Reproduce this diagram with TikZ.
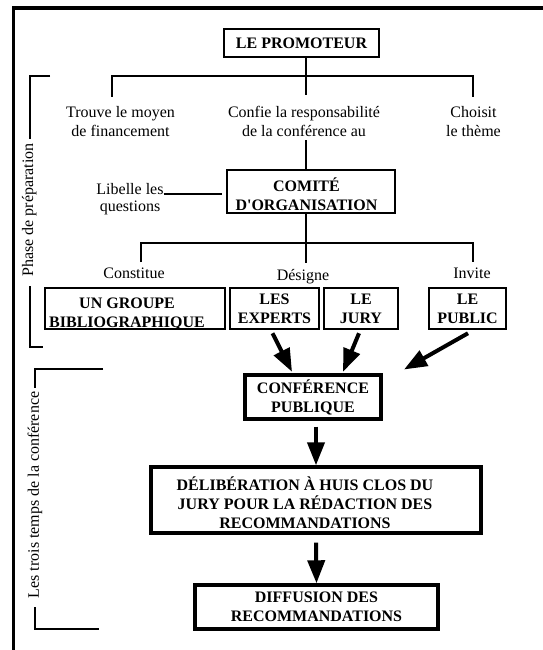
\documentclass[tikz,border=0pt]{standalone}
\usepackage{fontspec}
\setmainfont{Liberation Serif}[Ligatures=TeXOff]
\usetikzlibrary{arrows.meta,calc}
\begin{document}
\begin{tikzpicture}[x=1pt,y=-1pt,
  every node/.style={font=\fontsize{16pt}{19pt}\selectfont, inner sep=0pt},
  lbl/.style={align=center},
  bold/.style={font=\fontsize{16pt}{19pt}\selectfont\bfseries, align=center},
  box/.style={draw, line width=1.5pt, bold},
  bigbox/.style={draw, line width=3.4pt, bold},
  conn/.style={line width=1.8pt},
  outerframe/.style={line width=3.5pt},
  bracketline/.style={line width=1.8pt},
  bigarrow/.style={line width=4pt, -{Triangle[length=23pt,width=17pt]}},
  sidetext/.style={rotate=90}
]
\useasboundingbox (0,0) rectangle (543,650);
% outer frame (top and left)
\draw[outerframe] (543,8) -- (13.5,8) -- (13.5,650);

% promoteur
\node[box, minimum width=155pt, minimum height=28pt] (prom) at (301.5,43) {LE PROMOTEUR};
\coordinate (t0) at (306,76);
\coordinate (tl) at (112,97);
\coordinate (tr) at (473,97);
\node[lbl, anchor=north] (trouve) at (120.5,106.5) {Trouve le moyen\\de financement};
\node[lbl, anchor=north] (confie) at (304,106.5) {Confie la responsabilité\\de la conférence au};
\node[lbl, anchor=north] (choisit) at (473.5,106.5) {Choisit\\le thème};
\draw[conn] (prom.south -| t0) -- ($(t0)+(0,19)$);
\draw[conn] (tl) |- (t0) -| (tr);

% comite
\node[draw, line width=1.5pt, minimum width=168pt, minimum height=43pt] (comite) at (311,191.5) {};
\node[bold] (comiteT) at (306.5,194) {COMITÉ\\D'ORGANISATION};
\draw[conn] ($(confie.south -| t0)+(0,3)$) -- (comite.north -| t0);
\node[lbl, anchor=north] (lib) at (130,183) {Libelle les\\[-2pt]questions};
\coordinate (lq) at ($(comite.west)+(-4,2.5)$);
\draw[conn] (lib.north east |- lq) -- (lq);

% second branching
\coordinate (b0) at (306,243);
\coordinate (bl) at (141,262);
\coordinate (br) at (473,262);
\draw[conn] (comite.south -| b0) -- ($(b0)+(0,20)$);
\draw[conn] (bl) |- (b0) -| (br);
\node[anchor=base] (constitue) at (134,278) {Constitue};
\node[anchor=base] (designe) at (303,280.5) {Désigne};
\node[anchor=base] (invite) at (472,278) {Invite};

% row of boxes
\node[draw, line width=1.5pt, minimum width=180pt, minimum height=41pt] (groupe) at (135,308.5) {};
\node[bold] (groupeT) at (127,314) {UN GROUPE\\BIBLIOGRAPHIQUE};
\node[box, minimum width=89pt, minimum height=41pt] (experts) at (274.5,308.5) {LES\\EXPERTS};
\node[box, minimum width=74pt, minimum height=41pt] (jury) at (361,308.5) {LE\\JURY};
\node[box, minimum width=77pt, minimum height=41pt] (public) at (467.5,308.5) {LE\\PUBLIC};

% conference
\node[bigbox, minimum width=136pt, minimum height=44pt] (conf) at (313,397) {CONFÉRENCE\\PUBLIQUE};
\coordinate (pubtip) at (404,369.5);
\draw[bigarrow] ($(experts.south)+(-2,3.5)$) -- ($(conf.north)+(-21,-1.5)$);
\draw[bigarrow] ($(jury.south)+(-2,3.5)$) -- ($(conf.north)+(30,-1.5)$);
\draw[bigarrow] ($(public.south)+(0.5,3.5)$) -- (pubtip);

% deliberation
\node[draw, line width=3.4pt, minimum width=330pt, minimum height=66pt] (delib) at (316,500) {};
\node[bold] (delibT) at (305,503) {DÉLIBÉRATION À HUIS CLOS DU\\JURY POUR LA RÉDACTION DES\\RECOMMANDATIONS};
\draw[bigarrow] ($(conf.south -| delib.north)+(0,6)$) -- (delib.north);

% diffusion
\node[bigbox, minimum width=243pt, minimum height=44pt] (diff) at (316.5,607) {DIFFUSION DES\\RECOMMANDATIONS};
\draw[bigarrow] ($(delib.south)+(0,8)$) -- (diff.north);

% side brackets
\node[sidetext] (phase) at (29.3,210) {Phase de préparation};
\draw[bracketline] (50,76) -- (30,76) -- (30,139);
\draw[bracketline] (30,286) -- (30,347) -- (43,347);
\node[sidetext] (trois) at (35,495) {Les trois temps de la conférence};
\draw[bracketline] (103,369) -- (35,369) -- (35,388);
\draw[bracketline] (35,607) -- (35,629) -- (99,629);
\end{tikzpicture}
\end{document}
